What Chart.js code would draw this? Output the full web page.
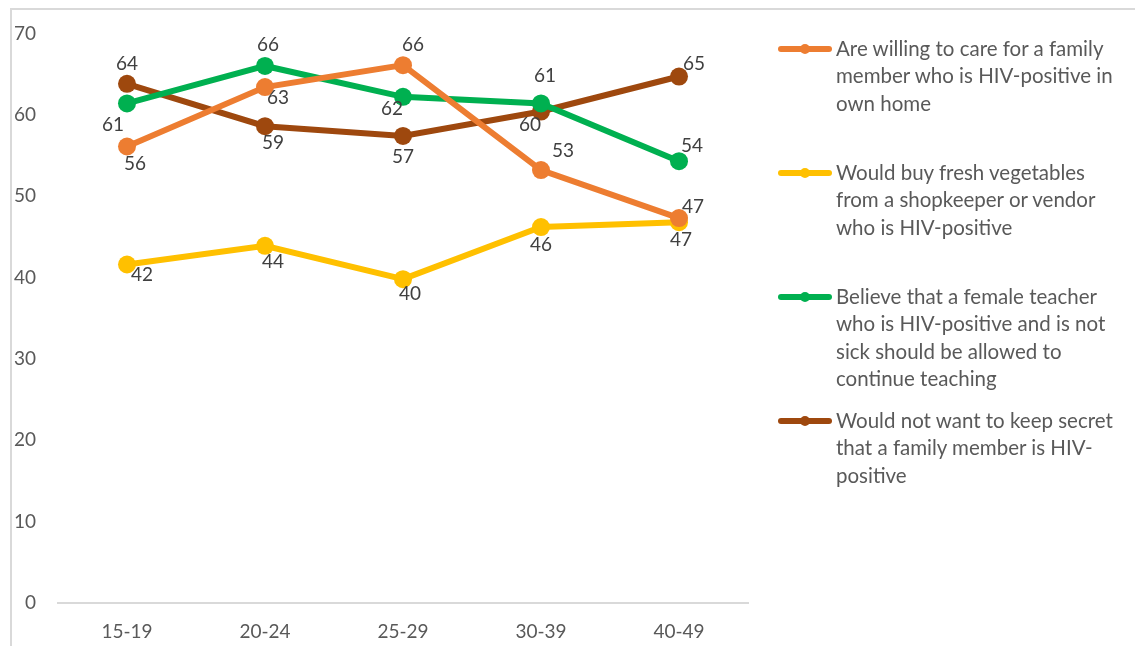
<!DOCTYPE html>
<html>
<head>
<meta charset="utf-8">
<script src="https://cdn.jsdelivr.net/npm/chart.js@4.4.1/dist/chart.umd.min.js"></script>
<style>
  html, body { margin: 0; padding: 0; background: #fff; }
  .wrap { position: relative; width: 1135px; height: 646px; overflow: hidden; }
  .frame { position: absolute; left: 10px; top: 8px; width: 1200px; height: 700px;
           border-left: 2px solid #d9d9d9; border-top: 2px solid #d9d9d9; }
  canvas { position: absolute; left: 0; top: 0; }
  .legend { position: absolute; left: 778px; top: 35px; width: 357px;
            font-family: Lato, sans-serif; font-size: 20.5px; line-height: 27.4px; color: #595959;
            white-space: pre-line; }
  .legend .item { position: relative; height: 124px; padding-left: 58px; }
  .legend .swatch { position: absolute; left: 0; top: 11px; width: 54px; height: 6px; border-radius: 3px; }
  .legend .swatch i { position: absolute; left: 22px; top: -2px; width: 10px; height: 10px; border-radius: 5px; background: inherit; }
</style>
</head>
<body>
<div class="wrap">
  <div class="frame"></div>
  <canvas id="chart" width="1135" height="646"></canvas>
  <div class="legend" id="legend"></div>
</div>
<script>
// age groups and percentages per attitude
const ageGroups = ['15-19', '20-24', '25-29', '30-39', '40-49'];
const careAtHome = [56.1, 63.4, 66.1, 53.2, 47.3];
const buyVegetables = [41.6, 43.9, 39.8, 46.2, 46.8];
const teacherContinue = [61.4, 66.0, 62.2, 61.4, 54.3];
const notKeepSecret = [63.8, 58.6, 57.4, 60.4, 64.7];
const yTicks = [0, 10, 20, 30, 40, 50, 60, 70];

const seriesNames = [
    'Are willing to care for a family\nmember who is HIV-positive in\nown home',
    'Would buy fresh vegetables\nfrom a shopkeeper or vendor\nwho is HIV-positive',
    'Believe that a female teacher\nwho is HIV-positive and is not\nsick should be allowed to\ncontinue teaching',
    'Would not want to keep secret\nthat a family member is HIV-\npositive'
];
const colors = ['#ED7D31', '#FFC000', '#00B050', '#9E480E'];

// where each value label sits relative to its point (px)
const labelOffsets = [
    [[8, 17], [13, 11], [10, -20], [22, -19], [14, -11]],
    [[15, 10], [8, 16], [7, 15], [0, 18], [2, 18]],
    [[-14, 21], [3, -21], [-11, 12], [4, -28], [13, -15]],
    [[0, -20], [8, 17], [0, 21], [-11, 13], [15, -13]]
];

const FONT = 'Lato, sans-serif';

const valueLabels = {
    id: 'valueLabels',
    afterDatasetsDraw(chart) {
        const ctx = chart.ctx;
        ctx.save();
        ctx.font = '19px ' + FONT;
        ctx.fillStyle = '#404040';
        ctx.textAlign = 'center';
        ctx.textBaseline = 'middle';
        chart.data.datasets.forEach((ds, i) => {
            chart.getDatasetMeta(i).data.forEach((pt, j) => {
                const off = labelOffsets[i][j];
                ctx.fillText(Math.round(ds.data[j]), pt.x + off[0], pt.y + off[1]);
            });
        });
        ctx.restore();
    }
};

const allSeries = [careAtHome, buyVegetables, teacherContinue, notKeepSecret];

new Chart(document.getElementById('chart').getContext('2d'), {
    type: 'line',
    data: {
        labels: ageGroups,
        datasets: allSeries.map((vals, i) => ({
            label: seriesNames[i],
            data: vals,
            borderColor: colors[i],
            backgroundColor: colors[i],
            borderWidth: 6,
            pointRadius: 9,
            pointHoverRadius: 9,
            pointBorderWidth: 0,
            tension: 0
        }))
    },
    options: {
        responsive: false,
        animation: false,
        layout: { padding: { left: 10, top: 33, right: 387, bottom: 0 } },
        plugins: { legend: { display: false }, tooltip: { enabled: false } },
        scales: {
            x: {
                offset: true,
                grid: { display: false, drawTicks: false, offset: true },
                border: { display: true, color: '#d9d9d9', width: 2 },
                ticks: { color: '#595959', font: { family: FONT, size: 19 }, padding: 17 },
                afterFit: s => { s.height = 43; }
            },
            y: {
                min: 0, max: 70,
                afterBuildTicks: s => { s.ticks = yTicks.map(v => ({ value: v })); },
                grid: { display: false, drawTicks: false },
                border: { display: false },
                ticks: { color: '#595959', font: { family: FONT, size: 19 }, padding: 22 },
                afterFit: s => { s.width = 48; }
            }
        }
    },
    plugins: [valueLabels]
});

// legend on the right, one slot per series
const legend = document.getElementById('legend');
seriesNames.forEach((name, i) => {
    const item = document.createElement('div');
    item.className = 'item';
    item.innerHTML = `<span class="swatch" style="background:${colors[i]}"><i></i></span>${name}`;
    legend.appendChild(item);
});
</script>
</body>
</html>
